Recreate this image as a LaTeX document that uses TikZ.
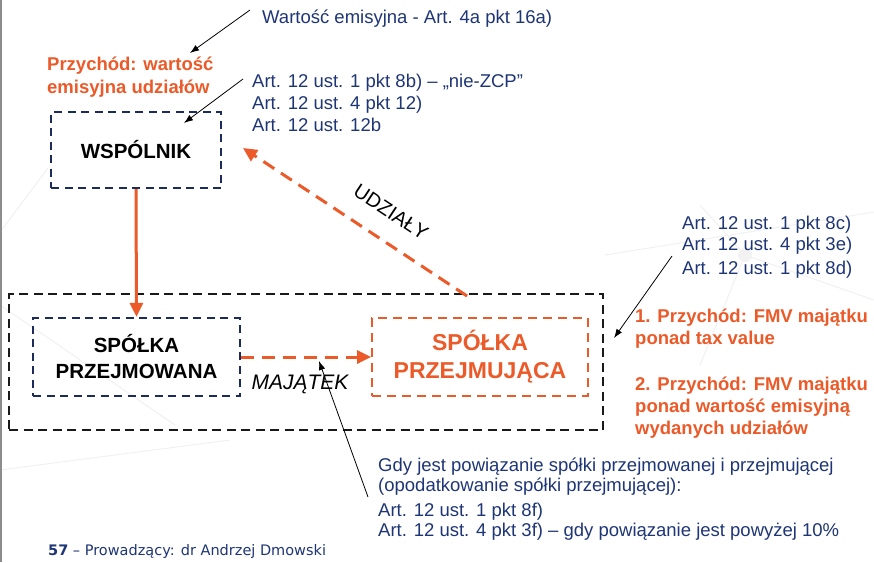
\documentclass[tikz,border=0pt]{standalone}
\usepackage{fontspec}
\setmainfont{Liberation Sans}
\newfontfamily\footfont{DejaVu Sans}
\usetikzlibrary{arrows.meta}
\definecolor{navytext}{HTML}{1F3676}
\definecolor{navybox}{HTML}{1C2B5A}
\definecolor{accent}{HTML}{EB5A28}

\begin{document}
\begin{tikzpicture}[x=1pt,y=-1pt,
  reftext/.style={anchor=base west, inner sep=0pt, text=navytext,
    font=\fontsize{18.5}{22}\selectfont},
  hottext/.style={anchor=base west, inner sep=0pt, text=accent,
    font=\bfseries\fontsize{18.5}{22}\selectfont},
  navyframe/.style={draw=navybox, line width=2.2pt, dash pattern=on 8pt off 5.5pt,
    inner sep=0pt, align=center},
  hotframe/.style={draw=accent, line width=1.8pt, dash pattern=on 9pt off 6pt,
    inner sep=0pt, align=center},
  groupframe/.style={draw=black!90, line width=2.2pt, dash pattern=on 9pt off 5.5pt,
    inner sep=0pt},
  flowarrow/.style={draw=accent, line width=3pt, -{Triangle[length=14pt,width=13pt]}},
  dashflow/.style={flowarrow, dash pattern=on 13pt off 8pt},
  pointer/.style={draw=black, line width=0.8pt, -{Latex[length=9pt,width=6.5pt]}},
  backdrop/.style={draw=black!6, line width=0.9pt}
]
\useasboundingbox (0,0) rectangle (874,562);
\fill[white] (0,0) rectangle (874,562);

% faint network texture in the background
\draw[backdrop] (0,232) -- (48,168);
\draw[backdrop] (0,305) -- (175,425);
\draw[backdrop] (605,255) -- (874,212);
\draw[backdrop] (700,205) -- (745,255) -- (874,300);
\draw[backdrop] (745,255) -- (700,365);
\draw[backdrop] (0,470) -- (230,440);
\fill[black!5] (745,255) circle (7);

% slide edge
\draw[black!45, line width=1.5pt] (1,0) -- (1,562);

% grouping frame and the three parties
\node[groupframe, minimum width=594pt, minimum height=136pt] (grp) at (306,362) {};
\node[navyframe, minimum width=170pt, minimum height=76pt,
  font=\bfseries\fontsize{20.5}{24}\selectfont] (wsp) at (136,150) {WSPÓLNIK};
\node[navyframe, minimum width=207pt, minimum height=78pt,
  font=\bfseries\fontsize{20.5}{26}\selectfont] (pw) at (136.5,357) {SPÓŁKA\\PRZEJMOWANA};
\node[hotframe, minimum width=216pt, minimum height=78pt, text=accent,
  font=\bfseries\fontsize{23}{28}\selectfont] (pj) at (480,357) {SPÓŁKA\\PRZEJMUJĄCA};

% flows between the parties
\draw[flowarrow] (wsp.south) -- (pw.north);
\draw[dashflow] (pw.east) -- (pj.west);
\coordinate (uFrom) at (467,296);
\coordinate (uTo) at (243,148);
\draw[dashflow] (uFrom) -- (uTo);
\node[rotate=-33.5, inner sep=0pt, font=\fontsize{20}{20}\selectfont] (ulab) at (391,212) {UDZIAŁY};
\node[inner sep=0pt, font=\itshape\fontsize{21}{21}\selectfont] (maj) at (300,384) {MAJĄTEK};

% legal references
\node[reftext] (we) at (262,23) {Wartość emisyjna - Art. 4a pkt 16a)};
\node[hottext] (pa) at (47,70) {Przychód: wartość};
\node[hottext] (pb) at (47,93) {emisyjna udziałów};
\node[reftext] (ra) at (252,87) {Art. 12 ust. 1 pkt 8b) – „nie-ZCP”};
\node[reftext] (rb) at (252,109) {Art. 12 ust. 4 pkt 12)};
\node[reftext] (rc) at (252,131) {Art. 12 ust. 12b};

\node[reftext] (sa) at (682,229) {Art. 12 ust. 1 pkt 8c)};
\node[reftext] (sb) at (682,250) {Art. 12 ust. 4 pkt 3e)};
\node[reftext] (sc) at (682,274) {Art. 12 ust. 1 pkt 8d)};
\node[hottext] (ha) at (635,322) {1. Przychód: FMV majątku};
\node[hottext] (hb) at (635,344) {ponad tax value};
\node[hottext] (hc) at (635,390) {2. Przychód: FMV majątku};
\node[hottext] (hd) at (635,412) {ponad wartość emisyjną};
\node[hottext] (he) at (635,434) {wydanych udziałów};

\node[reftext] (ga) at (378,471) {Gdy jest powiązanie spółki przejmowanej i przejmującej};
\node[reftext] (gb) at (378,491) {(opodatkowanie spółki przejmującej):};
\node[reftext] (gc) at (378,516) {Art. 12 ust. 1 pkt 8f)};
\node[reftext] (gd) at (378,536) {Art. 12 ust. 4 pkt 3f) – gdy powiązanie jest powyżej 10\%};

% pointers from the references
\coordinate (p1s) at (250,10);  \coordinate (p1e) at (190,53);
\coordinate (p2s) at (243,79);  \coordinate (p2e) at (184,123);
\coordinate (p3s) at (672,256); \coordinate (p3e) at (614,338);
\coordinate (p4s) at (368,497); \coordinate (p4e) at (319,361);
\draw[pointer] (p1s) -- (p1e);
\draw[pointer] (p2s) -- (p2e);
\draw[pointer] (p3s) -- (p3e);
\draw[pointer] (p4s) -- (p4e);

% footer
\node[anchor=base west, inner sep=0pt, text=navytext,
  font=\footfont\fontsize{14.5}{16}\selectfont] (foot) at (48,555)
  {\textbf{57} – Prowadzący: dr Andrzej Dmowski};
\end{tikzpicture}
\end{document}
